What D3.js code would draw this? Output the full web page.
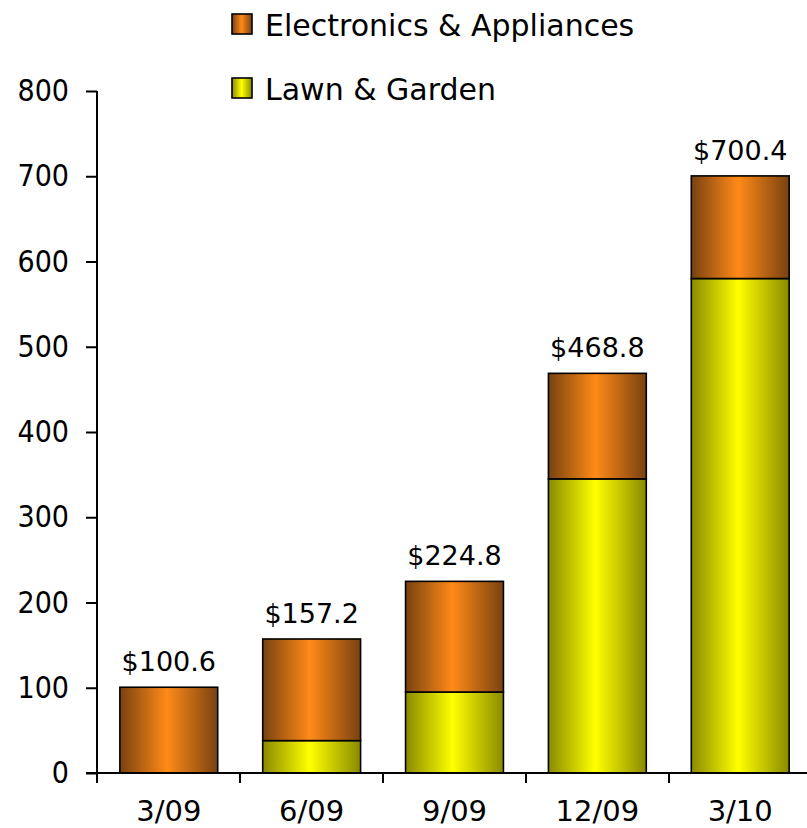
<!DOCTYPE html>
<html>
<head>
<meta charset="utf-8">
<script src="https://cdn.jsdelivr.net/npm/d3@7"></script>
<style>
  html, body { margin: 0; padding: 0; background: #fff; }
  svg { display: block; }
  text { font-family: "DejaVu Sans", sans-serif; fill: #000; }
  text.narrow { font-family: "DejaVu Sans Condensed", "DejaVu Sans", sans-serif; font-stretch: condensed; }
</style>
</head>
<body>
<svg id="chart" width="807" height="828"></svg>
<script>
// Quarter-end balances, $ millions
const quarters = ["3/09", "6/09", "9/09", "12/09", "3/10"];
const lawnGarden = [0, 38, 95, 345, 580];
const totals = [100.6, 157.2, 224.8, 468.8, 700.4];
const electronics = totals.map((t, i) => +(t - lawnGarden[i]).toFixed(1));
const yTicks = [0, 100, 200, 300, 400, 500, 600, 700, 800];
const seriesNames = ["Electronics & Appliances", "Lawn & Garden"];

const svg = d3.select("#chart");
const plotLeft = 97, plotRight = 812, plotTop = 91, plotBottom = 773;

const x = d3.scaleBand().domain(quarters).range([plotLeft, plotRight]).paddingInner(0.315).paddingOuter(0.16);
const y = d3.scaleLinear().domain([0, 800]).range([plotBottom, plotTop]);

// cylinder-like horizontal shading
const defs = svg.append("defs");
function shade(id, dark, light, darkR) {
  const g = defs.append("linearGradient").attr("id", id)
    .attr("x1", "0%").attr("x2", "100%").attr("y1", "0%").attr("y2", "0%");
  g.append("stop").attr("offset", "0%").attr("stop-color", dark);
  g.append("stop").attr("offset", "48%").attr("stop-color", light);
  g.append("stop").attr("offset", "100%").attr("stop-color", darkR);
}
shade("gOrange", "#784210", "#ff8a17", "#784210");
shade("gYellow", "#8a8a00", "#ffff00", "#8a8a00");

const stackData = quarters.map((q, i) => ({ q, lawn: lawnGarden[i], elec: electronics[i] }));
const stack = d3.stack().keys(["lawn", "elec"])(stackData);
const fills = { lawn: "url(#gYellow)", elec: "url(#gOrange)" };

svg.append("g").selectAll("g").data(stack).join("g")
  .attr("fill", d => fills[d.key])
  .selectAll("rect").data(d => d.filter(s => s[1] - s[0] > 0)).join("rect")
  .attr("x", d => x(d.data.q))
  .attr("width", x.bandwidth())
  .attr("y", d => y(d[1]))
  .attr("height", d => y(d[0]) - y(d[1]))
  .attr("stroke", "#000")
  .attr("stroke-width", 1.6);

// total labels
svg.append("g").selectAll("text").data(quarters).join("text")
  .attr("x", q => x(q) + x.bandwidth() / 2)
  .attr("y", (q, i) => y(totals[i]) - 16)
  .attr("text-anchor", "middle")
  .attr("font-size", 27)
  .text((q, i) => "$" + totals[i].toFixed(1));

// y axis
const yAxis = svg.append("g").attr("transform", `translate(${plotLeft},0)`)
  .call(d3.axisLeft(y).tickValues(yTicks).tickSize(11).tickPadding(17));
yAxis.select(".domain").attr("stroke", "#000").attr("stroke-width", 2).attr("d", `M0,${plotBottom}V${plotTop}`);
yAxis.selectAll(".tick line").attr("stroke", "#000").attr("stroke-width", 2);
yAxis.selectAll(".tick text").attr("class", "narrow").attr("font-size", 30).attr("fill", "#000")
  .attr("font-family", null);

// x axis with ticks on category boundaries
const xAxis = svg.append("g").attr("transform", `translate(0,${plotBottom})`);
xAxis.append("line").attr("x1", plotLeft - 11).attr("x2", 807).attr("stroke", "#000").attr("stroke-width", 2);
const bounds = d3.range(quarters.length + 1).map(i => plotLeft + i * (plotRight - plotLeft) / quarters.length);
xAxis.selectAll("line.tk").data(bounds).join("line").attr("class", "tk")
  .attr("x1", d => d).attr("x2", d => d).attr("y1", 0).attr("y2", 10)
  .attr("stroke", "#000").attr("stroke-width", 2);
xAxis.selectAll("text").data(quarters).join("text")
  .attr("x", q => x(q) + x.bandwidth() / 2)
  .attr("y", 48)
  .attr("text-anchor", "middle")
  .attr("font-size", 29)
  .text(q => q);

// legend
const legend = svg.append("g");
const legendFill = ["url(#gOrange)", "url(#gYellow)"];
seriesNames.forEach((name, i) => {
  const g = legend.append("g").attr("transform", `translate(232,${14 + i * 64})`);
  g.append("rect").attr("width", 20).attr("height", 20)
    .attr("fill", legendFill[i]).attr("stroke", "#000").attr("stroke-width", 1.6);
  g.append("text").attr("x", 33).attr("y", 22).attr("font-size", 30).text(name);
});
</script>
</body>
</html>
